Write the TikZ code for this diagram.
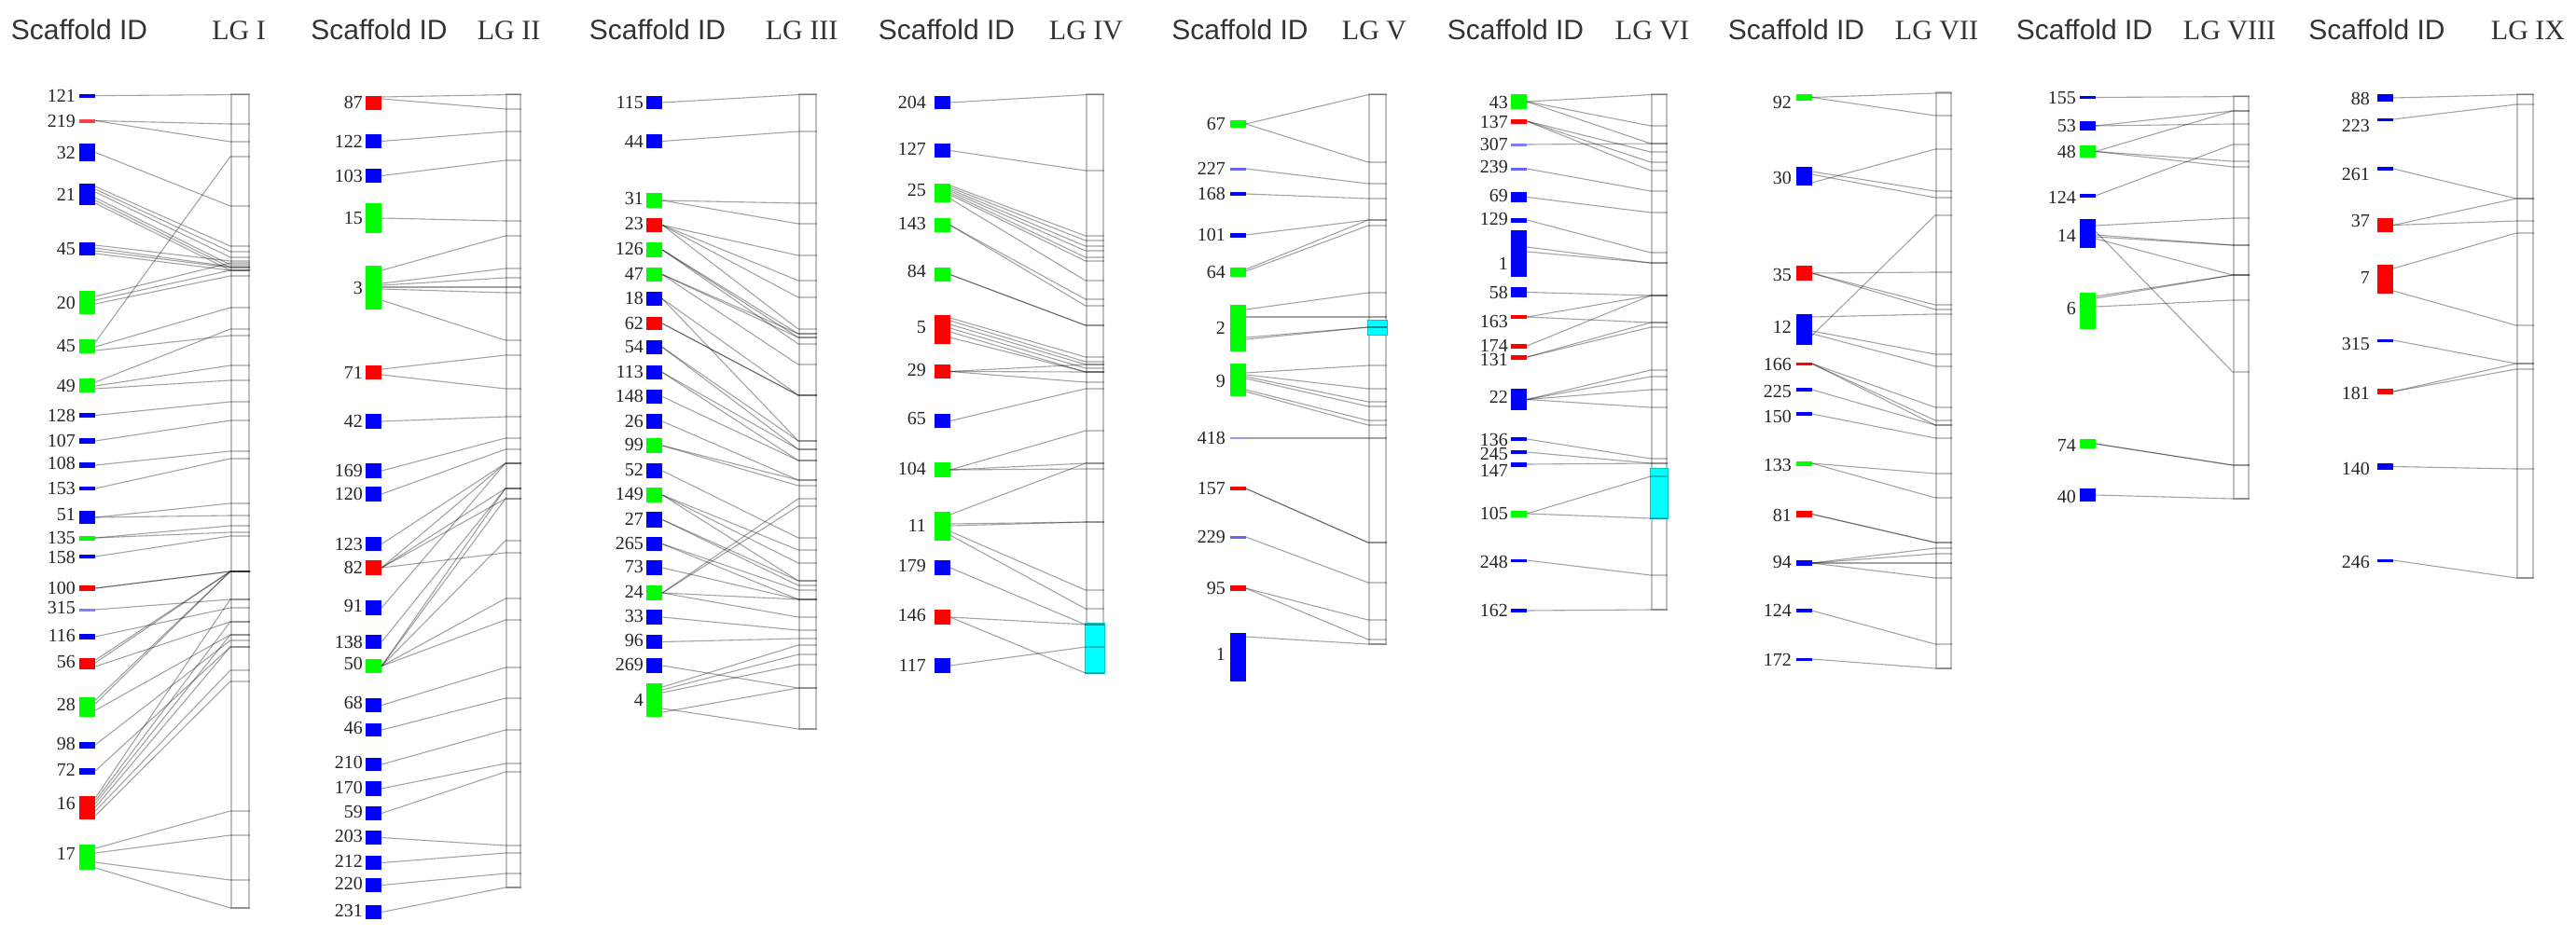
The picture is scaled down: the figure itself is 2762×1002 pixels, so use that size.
\documentclass[tikz,border=0pt]{standalone}
\usepackage{fontspec}
\setmainfont{Liberation Serif}
\setsansfont{Liberation Sans}
\definecolor{cyn}{RGB}{0,255,255}
\definecolor{cyndk}{RGB}{0,200,200}
\definecolor{grn}{RGB}{0,255,0}
\definecolor{blu}{RGB}{0,0,255}
\definecolor{rd}{RGB}{255,0,0}
\tikzset{
 sbox/.style={rectangle, inner sep=0pt, minimum width=17pt, draw=none},
 num/.style={font=\fontsize{20}{20}\selectfont, text=black!85, inner sep=0pt, anchor=east},
 hdr/.style={font=\sffamily\fontsize{30}{30}\selectfont, text=black!80, inner sep=0pt, anchor=base},
 lgname/.style={font=\fontsize{30}{30}\selectfont, text=black!80, inner sep=0pt, anchor=base},
 barbox/.style={rectangle, draw=black!25, line width=2.2pt, inner sep=0pt, fill=white},
 lk/.style={draw=black, draw opacity=0.36, line width=1.1pt},
 cyanbar/.style={fill=cyn, draw=cyndk, line width=1pt},
}
\newcommand\lgbar[5]{\node[barbox, minimum width={(#3-#2)*1pt}, minimum height={(#5-#4)*1pt}] (#1) at ({(#2+#3)/2},{(#4+#5)/2}) {};}
\newcommand\scaf[6]{\node[sbox, fill=#5, minimum height=#4pt] (#1) at (\bx,#3) {};\node[num] (#1l) at (\lx,#6) {#2};}
\newcommand\lnk[3]{\foreach \yb in {#3}{\draw[lk] (#1.east) -- (#2.west |- 0,\yb) -- (#2.east |- 0,\yb);}}
\newcommand\lnkx[3]{\foreach \ya/\yb in {#3}{\draw[lk] (#1.east |- 0,\ya) -- (#2.west |- 0,\yb) -- (#2.east |- 0,\yb);}}
\newcommand\cyanseg[3]{\draw[cyanbar] (#1.west |- 0,#2) rectangle (#1.east |- 0,#3);}
\begin{document}
\begin{tikzpicture}[x=1pt,y=-1pt]
\fill[white] (0,0) rectangle (2762,1002);
\useasboundingbox (0,0) rectangle (2762,1002);
% headers
\node[hdr] (h1) at (85,42) {Scaffold ID};   \node[lgname] (n1) at (256,42) {LG I};
\node[hdr] (h2) at (406.5,42) {Scaffold ID}; \node[lgname] (n2) at (545.5,42) {LG II};
\node[hdr] (h3) at (705,42) {Scaffold ID};   \node[lgname] (n3) at (859.5,42) {LG III};
\node[hdr] (h4) at (1015,42) {Scaffold ID};  \node[lgname] (n4) at (1164.5,42) {LG IV};
\node[hdr] (h5) at (1329.5,42) {Scaffold ID}; \node[lgname] (n5) at (1473.5,42) {LG V};
\node[hdr] (h6) at (1625,42) {Scaffold ID};  \node[lgname] (n6) at (1771.5,42) {LG VI};
\node[hdr] (h7) at (1926,42) {Scaffold ID};  \node[lgname] (n7) at (2076.5,42) {LG VII};
\node[hdr] (h8) at (2235,42) {Scaffold ID};  \node[lgname] (n8) at (2390.5,42) {LG VIII};
\node[hdr] (h9) at (2548.5,42) {Scaffold ID}; \node[lgname] (n9) at (2710.5,42) {LG IX};
% ---------------- Panel I
\def\bx{93.5}\def\lx{81}
\lgbar{B1}{248}{267}{100.6}{974}
\scaf{a121}{121}{102.6}{4}{blu}{102.6}
\scaf{a219}{219}{129.5}{4}{rd!75}{129.5}
\scaf{a32}{32}{163.5}{19}{blu}{163.5}
\scaf{a21}{21}{208.5}{23}{blu}{208.5}
\scaf{a45}{45}{267}{14}{blu}{267}
\scaf{a20}{20}{324.5}{25}{grn}{324.5}
\scaf{a45g}{45}{371.5}{15}{grn}{371.5}
\scaf{a49}{49}{413.5}{15}{grn}{413.5}
\scaf{a128}{128}{445.5}{5}{blu}{445.5}
\scaf{a107}{107}{473}{6}{blu}{473}
\scaf{a108}{108}{499}{6}{blu}{497}
\scaf{a153}{153}{524}{4}{blu}{524}
\scaf{a51}{51}{555}{14}{blu}{552}
\scaf{a135}{135}{577}{5}{grn}{577}
\scaf{a158}{158}{597}{4}{blu}{598}
\scaf{a100}{100}{631}{6}{rd}{631}
\scaf{a315}{315}{654}{3}{blu!50}{652}
\scaf{a116}{116}{683}{6}{blu}{682}
\scaf{a56}{56}{712}{12}{rd}{710}
\scaf{a28}{28}{758.5}{21}{grn}{756}
\scaf{a98}{98}{799}{7}{blu}{798}
\scaf{a72}{72}{827}{7}{blu}{826}
\scaf{a16}{16}{866.5}{25}{rd}{862}
\scaf{a17}{17}{919.5}{27}{grn}{916}
\lnk{a121}{B1}{101.6}
\lnk{a219}{B1}{133,152}
\lnk{a32}{B1}{221}
\lnkx{a21}{B1}{200/264,203/270,206/276,212/284,215/287,218/290}
\lnkx{a45}{B1}{263/280,266/286,269/287,272/290}
\lnkx{a20}{B1}{318/282,322/290,326/296}
\lnkx{a45g}{B1}{367/168,372/330,376/360}
\lnkx{a49}{B1}{410/353,414/392,417/408}
\lnk{a128}{B1}{431}
\lnk{a107}{B1}{451}
\lnk{a108}{B1}{484}
\lnk{a153}{B1}{492}
\lnk{a51}{B1}{540,553}
\lnk{a135}{B1}{564,571}
\lnk{a158}{B1}{575}
\lnk{a100}{B1}{613,613}
\lnk{a315}{B1}{643}
\lnk{a116}{B1}{652}
\lnkx{a56}{B1}{708/613,711/613,715/667}
\lnkx{a28}{B1}{751/613,755/613,762/681}
\lnk{a98}{B1}{687}
\lnk{a72}{B1}{694}
\lnkx{a16}{B1}{856/643,859/667,862/681,866/694,870/719,875/731}
\lnkx{a17}{B1}{910/870,915/896,925/944,931/974}
% ---------------- Panel II
\def\bx{400.5}\def\lx{389}
\lgbar{B2}{543}{558}{100.6}{952}
\scaf{b87}{87}{110}{15}{rd}{110}
\scaf{b122}{122}{151.5}{15}{blu}{151.5}
\scaf{b103}{103}{188.5}{15}{blu}{188.5}
\scaf{b15}{15}{234}{32}{grn}{234}
\scaf{b3}{3}{308.5}{47}{grn}{308.5}
\scaf{b71}{71}{399.5}{15}{rd}{399.5}
\scaf{b42}{42}{452}{16}{blu}{452}
\scaf{b169}{169}{505}{16}{blu}{505}
\scaf{b120}{120}{530}{16}{blu}{530}
\scaf{b123}{123}{583.5}{15}{blu}{583.5}
\scaf{b82}{82}{609}{16}{rd}{609}
\scaf{b91}{91}{652}{16}{blu}{650}
\scaf{b138}{138}{688.5}{15}{blu}{688.5}
\scaf{b50}{50}{714.5}{15}{grn}{712}
\scaf{b68}{68}{756.5}{15}{blu}{754}
\scaf{b46}{46}{783}{14}{blu}{781}
\scaf{b210}{210}{820}{14}{blu}{818}
\scaf{b170}{170}{846}{16}{blu}{845}
\scaf{b59}{59}{872.5}{15}{blu}{871}
\scaf{b203}{203}{898.5}{15}{blu}{897}
\scaf{b212}{212}{925.5}{15}{blu}{924}
\scaf{b220}{220}{949.5}{15}{blu}{948}
\scaf{b231}{231}{978.5}{15}{blu}{977}
\lnkx{b87}{B2}{104/101.6,106/117}
\lnk{b122}{B2}{141}
\lnk{b103}{B2}{172}
\lnk{b15}{B2}{237}
\lnkx{b3}{B2}{290/253,304/288,306/298,308/308,310/314,322/365}
\lnkx{b71}{B2}{396/381,402/417}
\lnk{b42}{B2}{447}
\lnk{b169}{B2}{470}
\lnk{b120}{B2}{482}
\lnk{b123}{B2}{497}
\lnk{b82}{B2}{497,524,535,593}
\lnk{b91}{B2}{497}
\lnk{b138}{B2}{524}
\lnk{b50}{B2}{524,535,580,642,665}
\lnk{b68}{B2}{716}
\lnk{b46}{B2}{749}
\lnk{b210}{B2}{783}
\lnk{b170}{B2}{819}
\lnk{b59}{B2}{828}
\lnk{b203}{B2}{907}
\lnk{b212}{B2}{915}
\lnk{b220}{B2}{937}
\lnk{b231}{B2}{952}
% ---------------- Panel III
\def\bx{701.5}\def\lx{690}
\lgbar{B3}{857}{875}{100.6}{782}
\scaf{c115}{115}{110}{14}{blu}{110}
\scaf{c44}{44}{151.5}{15}{blu}{152}
\scaf{c31}{31}{215}{16}{grn}{213}
\scaf{c23}{23}{241.5}{15}{rd}{240}
\scaf{c126}{126}{268}{16}{grn}{267}
\scaf{c47}{47}{294.5}{15}{grn}{294}
\scaf{c18}{18}{320.5}{15}{blu}{320}
\scaf{c62}{62}{347}{14}{rd}{347}
\scaf{c54}{54}{372.5}{15}{blu}{372}
\scaf{c113}{113}{399.5}{15}{blu}{399}
\scaf{c148}{148}{425.5}{15}{blu}{425}
\scaf{c26}{26}{452}{16}{blu}{452}
\scaf{c99}{99}{478}{16}{grn}{477}
\scaf{c52}{52}{505}{16}{blu}{504}
\scaf{c149}{149}{531}{16}{grn}{530}
\scaf{c27}{27}{557.5}{17}{blu}{557}
\scaf{c265}{265}{583.5}{15}{blu}{583}
\scaf{c73}{73}{609}{16}{blu}{608}
\scaf{c24}{24}{636}{16}{grn}{635}
\scaf{c33}{33}{662}{16}{blu}{661}
\scaf{c96}{96}{688.5}{15}{blu}{687}
\scaf{c269}{269}{714}{16}{blu}{713}
\scaf{c4}{4}{751}{36}{grn}{751}
\lnk{c115}{B3}{101.6}
\lnk{c44}{B3}{141}
\lnk{c31}{B3}{218,240}
\lnk{c23}{B3}{274,301,319,353}
\lnk{c126}{B3}{358,362,369}
\lnk{c47}{B3}{358,362,391}
\lnk{c18}{B3}{424,473}
\lnk{c62}{B3}{424,424}
\lnk{c54}{B3}{473,482}
\lnk{c113}{B3}{482,494}
\lnk{c148}{B3}{494}
\lnk{c26}{B3}{515}
\lnk{c99}{B3}{515,521}
\lnk{c52}{B3}{577}
\lnk{c149}{B3}{590,604,623}
\lnk{c27}{B3}{623,628}
\lnk{c265}{B3}{633,643}
\lnk{c73}{B3}{643}
\lnk{c24}{B3}{535,543,643,662}
\lnk{c33}{B3}{676}
\lnk{c96}{B3}{685}
\lnk{c269}{B3}{738}
\lnkx{c4}{B3}{737/692,740/702,743/713,760/782,764/738}
% ---------------- Panel IV
\def\bx{1010}\def\lx{993}
\lgbar{B4}{1165}{1183}{100.6}{722}
\cyanseg{B4}{668}{722}
\scaf{d204}{204}{110}{14}{blu}{110}
\scaf{d127}{127}{161.5}{15}{blu}{160}
\scaf{d25}{25}{207}{20}{grn}{204}
\scaf{d143}{143}{241.5}{15}{grn}{240}
\scaf{d84}{84}{294.5}{15}{grn}{291}
\scaf{d5}{5}{353.5}{31}{rd}{351}
\scaf{d29}{29}{398.5}{15}{rd}{397}
\scaf{d65}{65}{451.5}{15}{blu}{449}
\scaf{d104}{104}{504}{16}{grn}{503}
\scaf{d11}{11}{564.5}{31}{grn}{564}
\scaf{d179}{179}{609}{16}{blu}{607}
\scaf{d146}{146}{662}{16}{rd}{660}
\scaf{d117}{117}{714}{16}{blu}{714}
\lnk{d204}{B4}{101.6}
\lnk{d127}{B4}{183}
\lnkx{d25}{B4}{199/253,201/258,203/264,205/269,207/276,209/280,213/301}
\lnk{d143}{B4}{321,328}
\lnk{d84}{B4}{349,349}
\lnkx{d5}{B4}{341/383,344/388,348/391,352/395,356/399,362/399}
\lnk{d29}{B4}{391,399,410}
\lnk{d65}{B4}{417}
\lnk{d104}{B4}{462,497,503}
\lnkx{d11}{B4}{552/497,562/560,564/560,570/633,574/653}
\lnk{d179}{B4}{670}
\lnk{d146}{B4}{670,722}
\lnk{d117}{B4}{694}
% ---------------- Panel V
\def\bx{1327}\def\lx{1314}
\lgbar{B5}{1468}{1486}{100.6}{691}
\cyanseg{B5}{343}{359}
\scaf{e67}{67}{133}{8}{grn}{133}
\scaf{e227}{227}{181}{3}{blu!60}{181}
\scaf{e168}{168}{208}{4}{blu}{208}
\scaf{e101}{101}{252}{5}{blu}{252}
\scaf{e64}{64}{292}{10}{grn}{292}
\scaf{e2}{2}{352}{50}{grn}{352}
\scaf{e9}{9}{407.5}{35}{grn}{409}
\scaf{e418}{418}{470}{2}{blu!40}{470}
\scaf{e157}{157}{524}{4}{rd}{524}
\scaf{e229}{229}{576}{3}{blu!60}{576}
\scaf{e95}{95}{631}{6}{rd}{631}
\scaf{e1}{1}{705}{52}{blu}{702}
\lnk{e67}{B5}{101.6,174}
\lnk{e227}{B5}{197}
\lnk{e168}{B5}{213}
\lnk{e101}{B5}{236}
\lnkx{e64}{B5}{289/236,291/242}
\lnkx{e2}{B5}{332/314,340/340,362/351,364/351}
\lnkx{e9}{B5}{400/392,402/417,404/431,406/436,418/451,420/456}
\lnk{e418}{B5}{470}
\lnk{e157}{B5}{582,582}
\lnk{e229}{B5}{625}
\lnk{e95}{B5}{665,686}
\lnkx{e1}{B5}{683/691}
% ---------------- Panel VI
\def\bx{1628.5}\def\lx{1617}
\lgbar{B6}{1771}{1787}{100.6}{654}
\cyanseg{B6}{502}{556}
\scaf{f43}{43}{109}{16}{grn}{110}
\scaf{f137}{137}{130}{5}{rd}{131}
\scaf{f307}{307}{155}{3}{blu!50}{155}
\scaf{f239}{239}{181}{3}{blu!60}{179}
\scaf{f69}{69}{211.5}{11}{blu}{210}
\scaf{f129}{129}{236}{5}{blu}{235}
\scaf{f1}{1}{272}{50}{blu}{283}
\scaf{f58}{58}{313.5}{11}{blu}{314}
\scaf{f163}{163}{340}{4}{rd}{345}
\scaf{f174}{174}{371}{5}{rd}{371}
\scaf{f131}{131}{383}{5}{rd}{386}
\scaf{f22}{22}{428.5}{23}{blu}{426}
\scaf{f136}{136}{471}{4}{blu}{472}
\scaf{f245}{245}{485}{4}{blu}{487}
\scaf{f147}{147}{498}{5}{blu}{505}
\scaf{f105}{105}{551}{7}{grn}{551}
\scaf{f248}{248}{601}{3}{blu}{603}
\scaf{f162}{162}{655}{4}{blu}{655}
\lnk{f43}{B6}{101.6,135,154}
\lnk{f137}{B6}{163,174,183}
\lnk{f307}{B6}{154}
\lnk{f239}{B6}{205}
\lnk{f69}{B6}{228}
\lnk{f129}{B6}{271}
\lnkx{f1}{B6}{265/282,270/282}
\lnk{f58}{B6}{317}
\lnk{f163}{B6}{317,346}
\lnk{f174}{B6}{317}
\lnk{f131}{B6}{346,351}
\lnk{f22}{B6}{397,404,418,437}
\lnk{f136}{B6}{492}
\lnk{f245}{B6}{497}
\lnk{f147}{B6}{497}
\lnk{f105}{B6}{511,556}
\lnk{f248}{B6}{617}
\lnk{f162}{B6}{654}
% ---------------- Panel VII
\def\bx{1934}\def\lx{1921}
\lgbar{B7}{2076}{2092}{99}{717}
\scaf{g92}{92}{104.5}{7}{grn}{110}
\scaf{g30}{30}{189}{20}{blu}{191}
\scaf{g35}{35}{293}{16}{rd}{295}
\scaf{g12}{12}{353.5}{33}{blu}{351}
\scaf{g166}{166}{390}{3}{rd}{391}
\scaf{g225}{225}{418}{4}{blu}{420}
\scaf{g150}{150}{444}{4}{blu}{447}
\scaf{g133}{133}{497}{5}{grn}{499}
\scaf{g81}{81}{551.5}{7}{rd}{553}
\scaf{g94}{94}{604}{6}{blu}{603}
\scaf{g124}{124}{655}{4}{blu}{655}
\scaf{g172}{172}{707}{3}{blu}{708}
\lnk{g92}{B7}{100,124}
\lnkx{g30}{B7}{196/160,184/205,187/212}
\lnk{g35}{B7}{292,327,332}
\lnkx{g12}{B7}{360/231,340/337,355/380,358/393}
\lnk{g166}{B7}{437,451,456}
\lnk{g225}{B7}{456}
\lnk{g150}{B7}{470}
\lnk{g133}{B7}{508,534}
\lnk{g81}{B7}{582,582}
\lnk{g94}{B7}{588,594,604,620}
\lnk{g124}{B7}{691}
\lnk{g172}{B7}{717}
% ---------------- Panel VIII
\def\bx{2238}\def\lx{2226}
\lgbar{B8}{2395}{2411}{102.6}{535}
\scaf{h155}{155}{104.5}{3}{blu}{104.5}
\scaf{h53}{53}{135}{10}{blu}{135}
\scaf{h48}{48}{162.5}{13}{grn}{163}
\scaf{h124}{124}{210}{4}{blu}{212}
\scaf{h14}{14}{250.5}{31}{blu}{253}
\scaf{h6}{6}{333.5}{39}{grn}{331}
\scaf{h74}{74}{476}{10}{grn}{478}
\scaf{h40}{40}{531}{14}{blu}{533}
\lnk{h155}{B8}{103.6}
\lnk{h53}{B8}{119,133}
\lnk{h48}{B8}{119,173,179}
\lnk{h124}{B8}{155}
\lnkx{h14}{B8}{242/234,252/263,254/263,256/295,248/399}
\lnkx{h6}{B8}{318/295,320/295,329/322}
\lnk{h74}{B8}{499,499}
\lnk{h40}{B8}{535}
% ---------------- Panel IX
\def\bx{2557.5}\def\lx{2541}
\lgbar{B9}{2699}{2716}{100.6}{620}
\scaf{i88}{88}{105}{8}{blu}{106}
\scaf{i223}{223}{128}{3}{blu}{135}
\scaf{i261}{261}{181}{4}{blu}{187}
\scaf{i37}{37}{241.5}{15}{rd}{237}
\scaf{i7}{7}{299.5}{31}{rd}{298}
\scaf{i315}{315}{365}{3}{blu}{369}
\scaf{i181}{181}{420}{6}{rd}{422}
\scaf{i140}{140}{500.5}{7}{blu}{503}
\scaf{i246}{246}{601}{3}{blu}{603}
\lnk{i88}{B9}{101.6}
\lnk{i223}{B9}{112}
\lnk{i261}{B9}{213}
\lnk{i37}{B9}{213,237}
\lnkx{i7}{B9}{288/250,312/349}
\lnk{i315}{B9}{390}
\lnk{i181}{B9}{390,396}
\lnk{i140}{B9}{503}
\lnk{i246}{B9}{620}
\end{tikzpicture}
\end{document}
